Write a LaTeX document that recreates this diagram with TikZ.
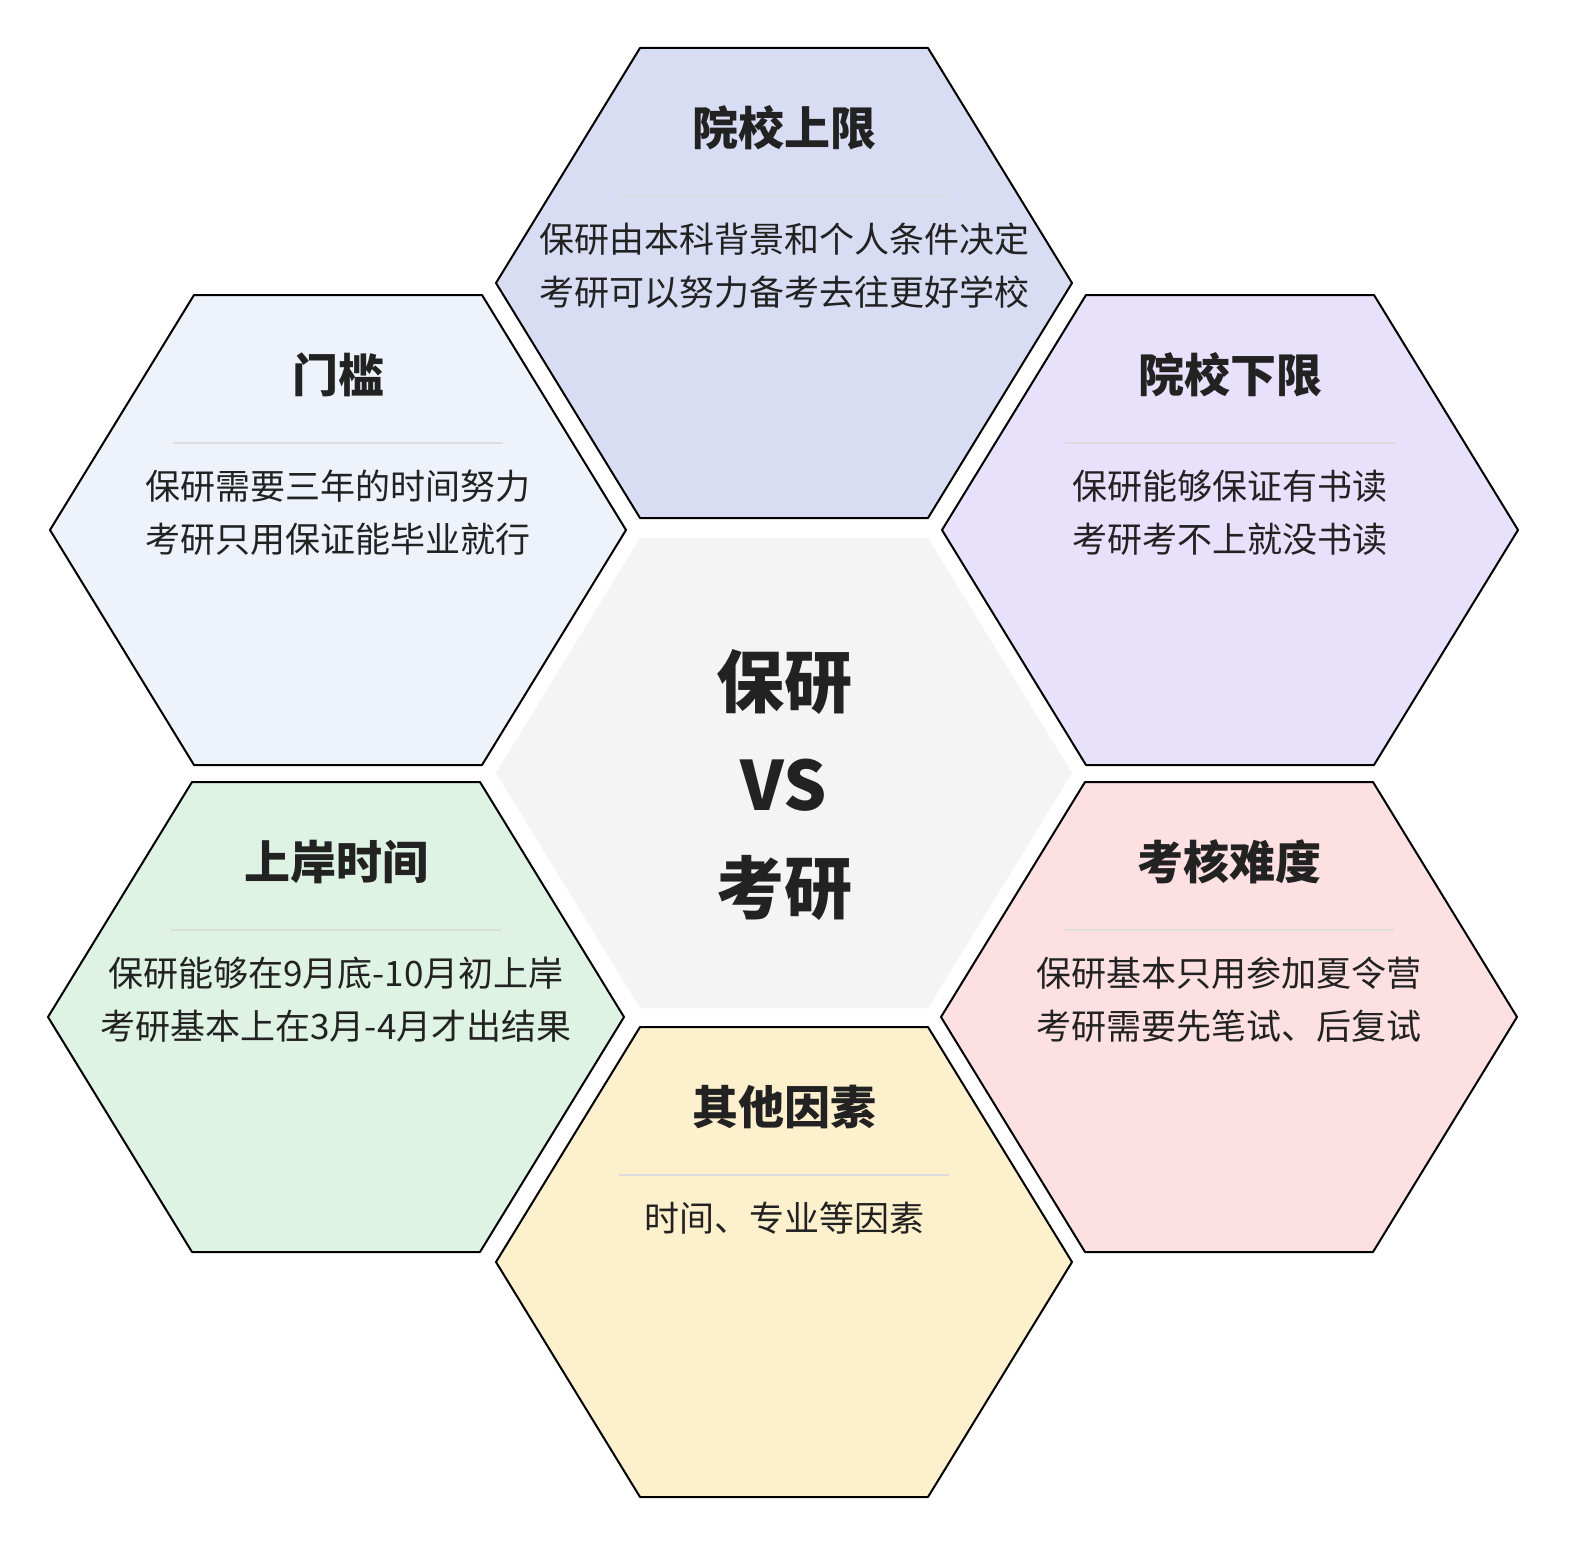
\documentclass[tikz,border=0pt]{standalone}
\usepackage{fontspec}
\setmainfont{Noto Sans CJK SC}
\definecolor{txt}{HTML}{222222}
\definecolor{sep}{HTML}{DCDCDC}
\definecolor{cA}{HTML}{D9DDF3}
\definecolor{cB}{HTML}{EEF2FB}
\definecolor{cC}{HTML}{E8E1FB}
\definecolor{cD}{HTML}{DFF3E4}
\definecolor{cE}{HTML}{FDE0E2}
\definecolor{cF}{HTML}{FDF0CC}
\definecolor{cG}{HTML}{F4F4F4}
\tikzset{
  hexline/.style={draw=black,line width=2pt,line join=round},
  ttl/.style={text=txt,font=\fontsize{46}{50}\selectfont\bfseries},
  body/.style={text=txt,font=\fontsize{35}{53}\selectfont,align=center,inner sep=0pt},
  sepl/.style={draw=sep,line width=2.5pt}
}
\newcommand{\hexat}[4]{% cx cy fill name
  \path[hexline,fill=#3] (#1-144,#2-235) coordinate (#4a) -- (#1+144,#2-235) -- (#1+288,#2) -- (#1+144,#2+235) -- (#1-144,#2+235) -- (#1-288,#2) -- cycle;
}
\newcommand{\hexcontent}[5]{% cx cy name title body
  \node[ttl] (#3t) at (#1,#2-155) {#4};
  \coordinate (#3l) at (#1-165,#2-87);
  \coordinate (#3r) at (#1+165,#2-87);
  \draw[sepl] (#3l) -- (#3r);
  \node[body,anchor=north] (#3b) at (#1,#2-60) {#5};
}
\begin{document}
\begin{tikzpicture}[x=1pt,y=-1pt]
\useasboundingbox (0,0) rectangle (1588,1568);
\fill[white] (0,0) rectangle (1588,1568);
\path[fill=cG] (640,538) -- (928,538) -- (1072,773) -- (928,1008) -- (640,1008) -- (496,773) -- cycle;
\hexat{784}{283}{cA}{ha}
\hexat{338}{530}{cB}{hb}
\hexat{1230}{530}{cC}{hc}
\hexat{336}{1017}{cD}{hd}
\hexat{1229}{1017}{cE}{he}
\hexat{784}{1262}{cF}{hf}
\hexcontent{784}{283}{A}{院校上限}{保研由本科背景和个人条件决定\\考研可以努力备考去往更好学校}
\hexcontent{338}{530}{B}{门槛}{保研需要三年的时间努力\\考研只用保证能毕业就行}
\hexcontent{1230}{530}{C}{院校下限}{保研能够保证有书读\\考研考不上就没书读}
\hexcontent{336}{1017}{D}{上岸时间}{保研能够在9月底-10月初上岸\\考研基本上在3月-4月才出结果}
\hexcontent{1229}{1017}{E}{考核难度}{保研基本只用参加夏令营\\考研需要先笔试、后复试}
\hexcontent{784}{1262}{F}{其他因素}{时间、专业等因素}
\node[text=txt,font=\fontsize{68}{103}\selectfont\bfseries,align=center] (center) at (784,785) {保研\\VS\\考研};
\end{tikzpicture}
\end{document}
